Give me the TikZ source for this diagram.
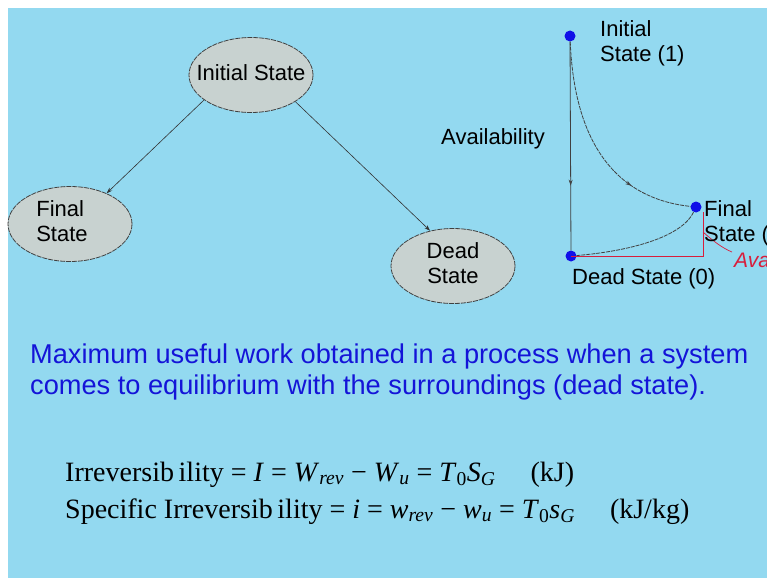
\documentclass[tikz,border=0pt]{standalone}
\usepackage{fontspec}
\setmainfont{Liberation Serif}
\setsansfont{Liberation Sans}
\usepackage{xcolor}
\usetikzlibrary{shapes.geometric, arrows.meta, positioning, decorations.markings}
\definecolor{slide}{HTML}{93D9F0}
\definecolor{stategray}{HTML}{C8D2D0}
\definecolor{textblue}{HTML}{1414D8}
\definecolor{dotblue}{HTML}{1010E8}
\definecolor{penred}{HTML}{D81E3C}
\newcommand{\stxt}[2]{\makebox[0pt]{\begin{tabular}{@{}#1@{}}#2\end{tabular}}}
\tikzset{
  st/.style  ={ellipse, draw=black!75, fill=stategray, line width=0.8pt,
               dash pattern=on 5pt off 1pt, minimum width=124pt, minimum height=75pt,
               inner sep=0pt, font=\sffamily\fontsize{22}{25}\selectfont},
  lbl/.style ={inner sep=0pt, font=\sffamily\fontsize{22}{25}\selectfont, align=left},
  dot/.style ={circle, fill=dotblue, minimum size=11pt, inner sep=0pt},
  arr/.style ={-{Stealth[length=6pt,width=4pt]}, line width=0.6pt, black!80},
  crv/.style ={line width=0.8pt, black!75, dash pattern=on 4pt off 1pt},
  mid/.style ={postaction={decorate}, decoration={markings,
               mark=at position #1 with {\arrow{Stealth[length=6pt,width=4pt]}}}},
}

\begin{document}
\begin{tikzpicture}[x=1pt, y=-1pt]

  % ── Slide background ───────────────────────────────────────────────
  \useasboundingbox (0,0) rectangle (767,578);
  \clip (0,0) rectangle (767,578);
  \fill[white] (0,0) rectangle (767,578);
  \fill[slide] (8,8) rectangle (767,578);

  % ── State tree ─────────────────────────────────────────────────────
  \node[st] (init)  at (251,75)  {\stxt{c}{Initial State}};
  \node[st] (final) at (70,224)  {\stxt{l}{\hspace*{-16pt}Final\\\hspace*{-16pt}State}};
  \node[st] (dead)  at (453,266) {\stxt{c}{Dead\\State}};

  \draw[arr] (init.208) -- (final.40);
  \draw[arr] (init.329) -- (dead.123);

  % ── Availability sketch ────────────────────────────────────────────
  \node[dot] (p1) at (570,36)  {};
  \node[dot] (p0) at (571,256) {};
  \node[dot] (p2) at (696,207) {};
  \coordinate (corner) at (703,256);

  \draw[penred, line width=0.9pt] (p0.center) -- (corner) -- (703,212);
  \draw[penred, line width=0.7pt] (703,232) .. controls (712,240) and (722,248) .. (732,252);

  \draw[line width=0.8pt, black!75, mid=0.69] (p1) -- (p0);
  \draw[crv, mid=0.72] (p1) .. controls (575,160) and (630,200) .. (p2);
  \draw[crv] (p2) .. controls (680,240) and (620,252) .. (p0);

  \node[lbl, anchor=west] (l1) at (600,43) {Initial\\State (1)};
  \node[lbl, anchor=west] (l2) at (704,223) {Final\\State (2)};
  \node[lbl, anchor=west] (l0) at (572,279) {Dead State (0)};
  \node[lbl] (avail) at (493,139) {Availability};
  \node[inner sep=0pt, anchor=west, text=penred,
        font=\sffamily\itshape\fontsize{21}{22}\selectfont] (ava) at (734,260) {Ava};

  % ── Definition ─────────────────────────────────────────────────────
  \node[anchor=north west, inner sep=0pt, align=left, text=textblue,
        font=\sffamily\fontsize{27.2}{31}\selectfont] (defn) at (30,344)
        {Maximum useful work obtained in a process when a system\\
         comes to equilibrium with the surroundings (dead state).};

  % ── Irreversibility ────────────────────────────────────────────────
  \node[anchor=base west, inner sep=0pt, font=\fontsize{28}{32}\selectfont] (irr) at (65,481)
        {Irreversib\,ility = \textit{I} = \textit{W}\textsubscript{\textit{rev}} −
         \textit{W}\textsubscript{\textit{u}} = \textit{T}\textsubscript{0}\textit{S}\textsubscript{\textit{G}}\quad\ (kJ)};
  \node[anchor=base west, inner sep=0pt, font=\fontsize{28}{32}\selectfont] (sirr) at (65,518)
        {Specific Irreversib\,ility = \textit{i} = \textit{w}\textsubscript{\textit{rev}} −
         \textit{w}\textsubscript{\textit{u}} = \textit{T}\textsubscript{0}\textit{s}\textsubscript{\textit{G}}\quad\ (kJ/kg)};

\end{tikzpicture}
\end{document}
